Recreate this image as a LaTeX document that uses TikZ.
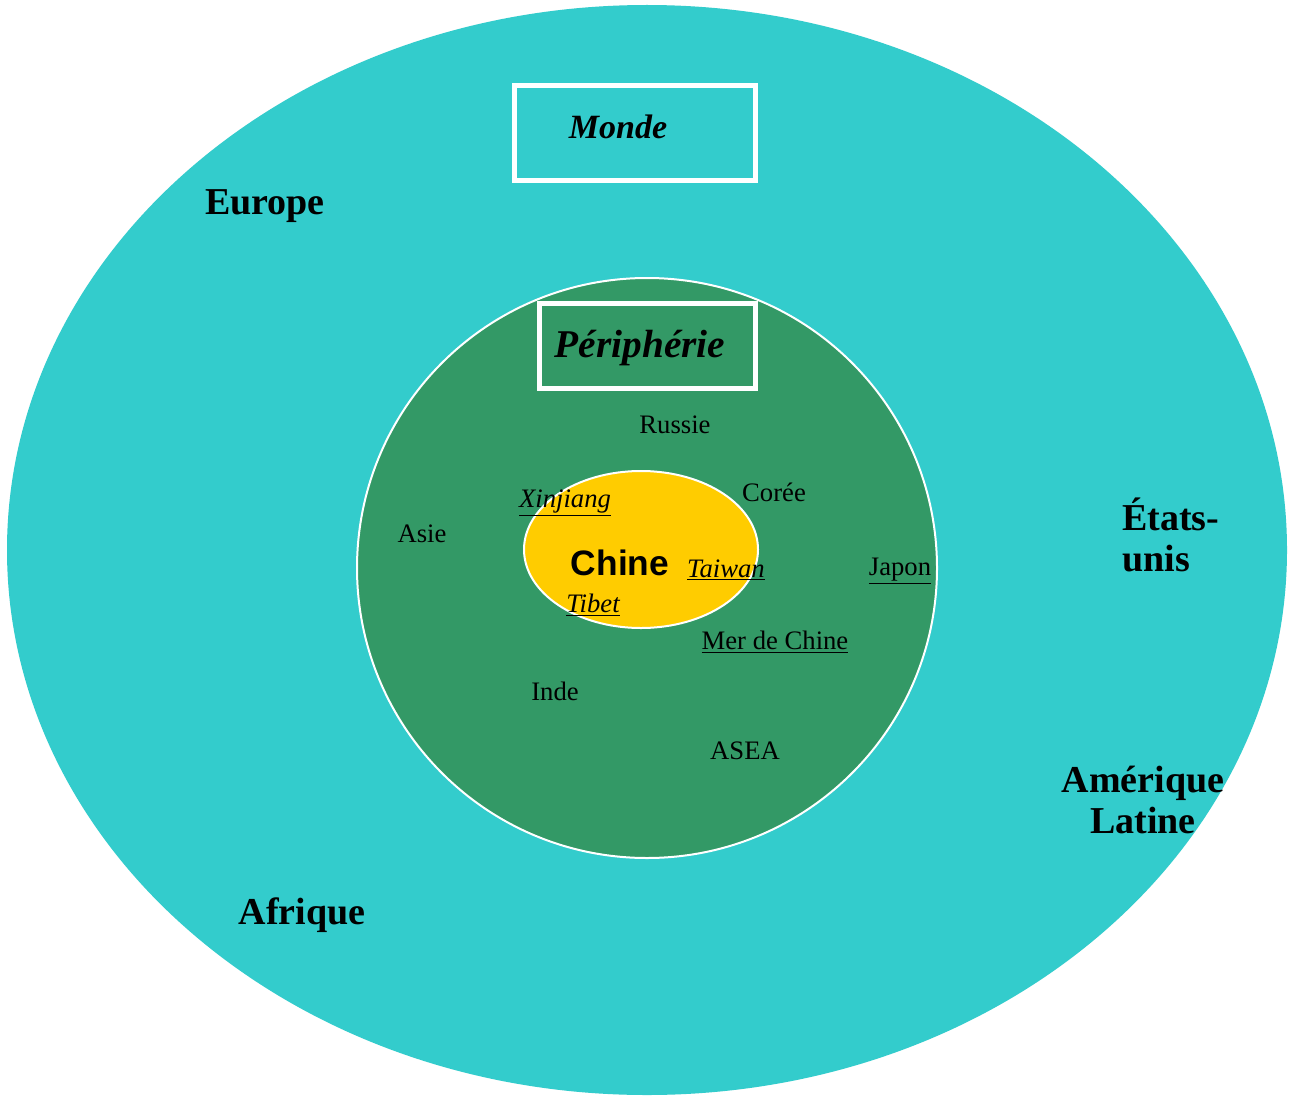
\documentclass[tikz,border=0pt]{standalone}
\usepackage{fontspec}
\setmainfont{Liberation Serif}
\newfontfamily\chinefont{Liberation Sans}
\definecolor{cyanbg}{HTML}{33CCCC}
\definecolor{greenbg}{HTML}{339966}
\definecolor{yellowbg}{HTML}{FFCC00}
\tikzset{
  big/.style={font=\fontsize{28.5}{31}\selectfont\bfseries, inner sep=0pt},
  small/.style={font=\fontsize{20}{22}\selectfont, inner sep=0pt},
  smallit/.style={font=\fontsize{20}{22}\selectfont\itshape, inner sep=0pt},
  framebox/.style={draw=white, line width=3.6pt},
}
\begin{document}
\begin{tikzpicture}[x=0.75pt,y=-0.75pt]
\useasboundingbox (0,0) rectangle (1291,1095);
\fill[white] (0,0) rectangle (1291,1095);
% outer ellipse
\fill[cyanbg] (647,550) ellipse [x radius=640, y radius=545];
% Monde box
\node[framebox, minimum width=241*0.75pt, minimum height=95*0.75pt] (mondebox) at (635,133) {};
\node[font=\fontsize{25.5}{28}\selectfont\bfseries\itshape, inner sep=0pt] (monde) at (618,127) {Monde};
% green circle
\draw[fill=greenbg, draw=white, line width=1.5pt] (647,568) circle [radius=290];
% Peripherie box
\node[framebox, minimum width=216*0.75pt, minimum height=85*0.75pt] (peribox) at (647.5,346) {};
\node[font=\fontsize{29.5}{32}\selectfont\bfseries\itshape, inner sep=0pt] (peri) at (640,348) {Périphérie};
% yellow ellipse
\draw[fill=yellowbg, draw=white, line width=1.5pt] (641,549.5) ellipse [x radius=117, y radius=78.5];
% outer labels
\node[big] (europe) at (265,206) {Europe};
\node[big, align=left, anchor=west] (etats) at (1122,535) {États-\\unis};
\node[big, align=center] (amlat) at (1143,800) {Amérique\\Latine};
\node[big] (afrique) at (302,915) {Afrique};
% periphery labels
\node[small] (russie) at (675,425) {Russie};
\node[small] (coree) at (774,492) {Corée};
\node[small] (asie) at (422,534) {Asie};
\node[small] (japon) at (900,571) {\underline{Japon}};
\node[small] (mer) at (775,642) {\underline{Mer de Chine}};
\node[small] (inde) at (555,691) {Inde};
\node[small] (asea) at (745,751) {ASEA};
% core labels
\node[smallit] (xinjiang) at (565,503) {\underline{Xinjiang}};
\node[smallit] (taiwan) at (726,570) {\underline{Taiwan}};
\node[smallit] (tibet) at (593,605) {\underline{Tibet}};
\node[font=\chinefont\fontsize{26.5}{28}\selectfont\bfseries, inner sep=0pt] (chine) at (620,563) {Chine};
\end{tikzpicture}
\end{document}
